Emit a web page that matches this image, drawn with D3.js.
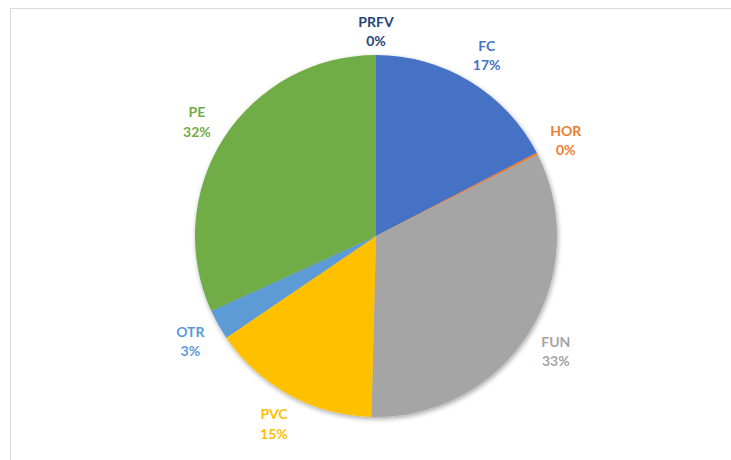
<!DOCTYPE html>
<html>
<head>
<meta charset="utf-8">
<script src="https://cdn.jsdelivr.net/npm/d3@7"></script>
<style>
  body { margin: 0; background: #fff; }
  svg { display: block; }
</style>
</head>
<body>
<div id="grafico"></div>
<script>
// Datos del grafico
const categorias = ["FC", "HOR", "FUN", "PVC", "OTR", "PE", "PRFV"];
const valores = [17.4, 0.2, 32.8, 15.1, 2.7, 31.8, 0.0];
const colores = ["#4472C4", "#ED7D31", "#A5A5A5", "#FFC000", "#5B9BD5", "#70AD47", "#264478"];

const WIDTH = 731;
const HEIGHT = 460;
const cx = 376, cy = 236;
const radio = 181;
const radioEtiqueta = 213;

var svg = d3.select("#grafico")
    .append("svg")
    .attr("width", WIDTH)
    .attr("height", HEIGHT);

// borde del area del grafico
svg.append("path")
    .attr("d", "M10.5," + HEIGHT + "V8.5H" + WIDTH)
    .style("fill", "none")
    .style("stroke", "#d9d9d9")
    .style("stroke-width", 1);

// sombra suave
var defs = svg.append("defs");
var filtro = defs.append("filter").attr("id", "sombra")
    .attr("x", "-20%").attr("y", "-20%").attr("width", "140%").attr("height", "140%");
filtro.append("feGaussianBlur").attr("in", "SourceAlpha").attr("stdDeviation", 2.5);
filtro.append("feOffset").attr("dx", 1).attr("dy", 1.5).attr("result", "blur");
filtro.append("feComponentTransfer").append("feFuncA").attr("type", "linear").attr("slope", 0.35);
var merge = filtro.append("feMerge");
merge.append("feMergeNode");
merge.append("feMergeNode").attr("in", "SourceGraphic");

var datos = categorias.map(function (c, i) {
    return { nombre: c, valor: valores[i], color: colores[i] };
});

var total = d3.sum(valores);
var pie = d3.pie().sort(null).value(function (d) { return d.valor; });
var arcos = pie(datos);

var arco = d3.arc().innerRadius(0).outerRadius(radio);
var arcoEtiqueta = d3.arc().innerRadius(radioEtiqueta).outerRadius(radioEtiqueta);

var g = svg.append("g").attr("transform", "translate(" + cx + "," + cy + ")");

g.append("g")
    .attr("filter", "url(#sombra)")
    .selectAll("path")
    .data(arcos)
    .enter()
    .append("path")
    .attr("d", arco)
    .attr("fill", function (d) { return d.data.color; });

// etiquetas
var etiquetas = g.selectAll(".etiqueta")
    .data(arcos)
    .enter()
    .append("text")
    .attr("class", "etiqueta")
    .attr("transform", function (d) {
        var p = arcoEtiqueta.centroid(d);
        // las etiquetas de 0% en el borde superior quedan un poco mas cerca
        if (d.data.nombre == "PRFV") p = [0, -radioEtiqueta + 7];
        return "translate(" + p[0] + "," + p[1] + ")";
    })
    .attr("text-anchor", "middle")
    .style("font-family", "Lato, 'Open Sans', sans-serif")
    .style("font-weight", "bold")
    .style("font-size", "14px")
    .style("fill", function (d) { return d.data.color; });

etiquetas.append("tspan")
    .attr("x", 0)
    .attr("dy", "-0.25em")
    .text(function (d) { return d.data.nombre; });

etiquetas.append("tspan")
    .attr("x", 0)
    .attr("dy", "1.4em")
    .text(function (d) { return Math.round(d.data.valor / total * 100) + "%"; });
</script>
</body>
</html>
